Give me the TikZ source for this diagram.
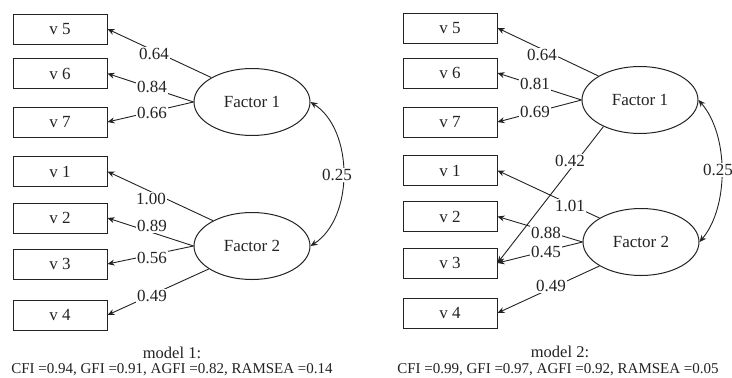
\documentclass[tikz,border=0pt]{standalone}
\usepackage{fontspec}
\setmainfont{Liberation Serif}
\usetikzlibrary{shapes.geometric,arrows.meta}
\definecolor{ink}{RGB}{35,35,35}
\begin{document}
\begin{tikzpicture}[x=1pt,y=-1pt,
  every node/.style={text=ink},
  obs/.style={draw=ink,line width=1pt,minimum width=94pt,minimum height=30pt,inner sep=0pt,font=\fontsize{17}{20}\selectfont},
  lat/.style={draw=ink,ellipse,line width=1pt,minimum width=116pt,minimum height=67pt,inner sep=0pt,font=\fontsize{17}{20}\selectfont},
  load/.style={draw=ink,line width=0.9pt,-{Stealth[length=7pt,width=6pt]}},
  cov/.style={draw=ink,line width=0.9pt,{Stealth[length=7pt,width=6pt]}-{Stealth[length=7pt,width=6pt]}},
  lbl/.style={fill=white,inner sep=1pt,font=\fontsize{17}{20}\selectfont},
  capa/.style={font=\fontsize{16.5}{19}\selectfont},
  capb/.style={font=\fontsize{15}{18}\selectfont}
]
\useasboundingbox[fill=white] (0,0) rectangle (732,378);

% ---------- model 1 ----------
\node[obs] (a5) at (60,29)   {v 5};
\node[obs] (a6) at (60,73.5) {v 6};
\node[obs] (a7) at (60,122)  {v 7};
\node[obs] (a1) at (60,171.5){v 1};
\node[obs] (a2) at (60,218)  {v 2};
\node[obs] (a3) at (60,264)  {v 3};
\node[obs] (a4) at (60,315)  {v 4};
\node[lat] (af1) at (252,102) {Factor 1};
\node[lat] (af2) at (252,246) {Factor 2};

\draw[load] (af1.149) -- (a5.east);
\draw[load] (af1.west) -- (a6.east);
\draw[load] (af1.west) -- (a7.east);
\draw[load] (af2.147) -- (a1.east);
\draw[load] (af2.west) -- (a2.east);
\draw[load] (af2.west) -- (a3.east);
\draw[load] (af2.208) -- (a4.east);
\draw[cov] (af1.east) .. controls (354,130) and (354,218) .. (af2.east);

\node[lbl] (la1) at (154,54)  {0.64};
\node[lbl] (la2) at (152,87)  {0.84};
\node[lbl] (la3) at (152,113) {0.66};
\node[lbl] (la4) at (151,199) {1.00};
\node[lbl] (la5) at (152,226) {0.89};
\node[lbl] (la6) at (152,258) {0.56};
\node[lbl] (la7) at (152,296) {0.49};
\node[lbl] (la8) at (337,175) {0.25};

\node[capa] (ca1) at (172,353) {model 1:};
\node[capb] (ca2) at (172,369.5) {CFI =0.94, GFI =0.91, AGFI =0.82, RAMSEA =0.14};

% ---------- model 2 ----------
\node[obs] (b5) at (450,28)   {v 5};
\node[obs] (b6) at (450,73)   {v 6};
\node[obs] (b7) at (450,122)  {v 7};
\node[obs] (b1) at (450,170.5){v 1};
\node[obs] (b2) at (450,216.5){v 2};
\node[obs] (b3) at (450,263)  {v 3};
\node[obs] (b4) at (450,313)  {v 4};
\node[lat] (bf1) at (640,100) {Factor 1};
\node[lat] (bf2) at (641,242) {Factor 2};

\draw[load] (bf1.150) -- (b5.east);
\draw[load] (bf1.west) -- (b6.east);
\draw[load] (bf1.west) -- (b7.east);
\draw[load] (bf1.216) -- (b3.east);
\draw[load] (bf2.150) -- (b1.east);
\draw[load] (bf2.west) -- (b2.east);
\draw[load] (bf2.west) -- (b3.east);
\draw[load] (bf2.210) -- (b4.east);
\draw[cov] (bf1.east) .. controls (729,135) and (729,207) .. (bf2.east);

\node[lbl] (lb1) at (542,55)  {0.64};
\node[lbl] (lb2) at (535,84)  {0.81};
\node[lbl] (lb3) at (535,112) {0.69};
\node[lbl] (lb4) at (570,161) {0.42};
\node[lbl] (lb5) at (570,206) {1.01};
\node[lbl] (lb6) at (546,233) {0.88};
\node[lbl] (lb7) at (546,252) {0.45};
\node[lbl] (lb8) at (551,286) {0.49};
\node[lbl] (lb9) at (718,170) {0.25};

\node[capa] (cb1) at (560,352) {model 2:};
\node[capb] (cb2) at (558,369.5) {CFI =0.99, GFI =0.97, AGFI =0.92, RAMSEA =0.05};
\end{tikzpicture}
\end{document}
